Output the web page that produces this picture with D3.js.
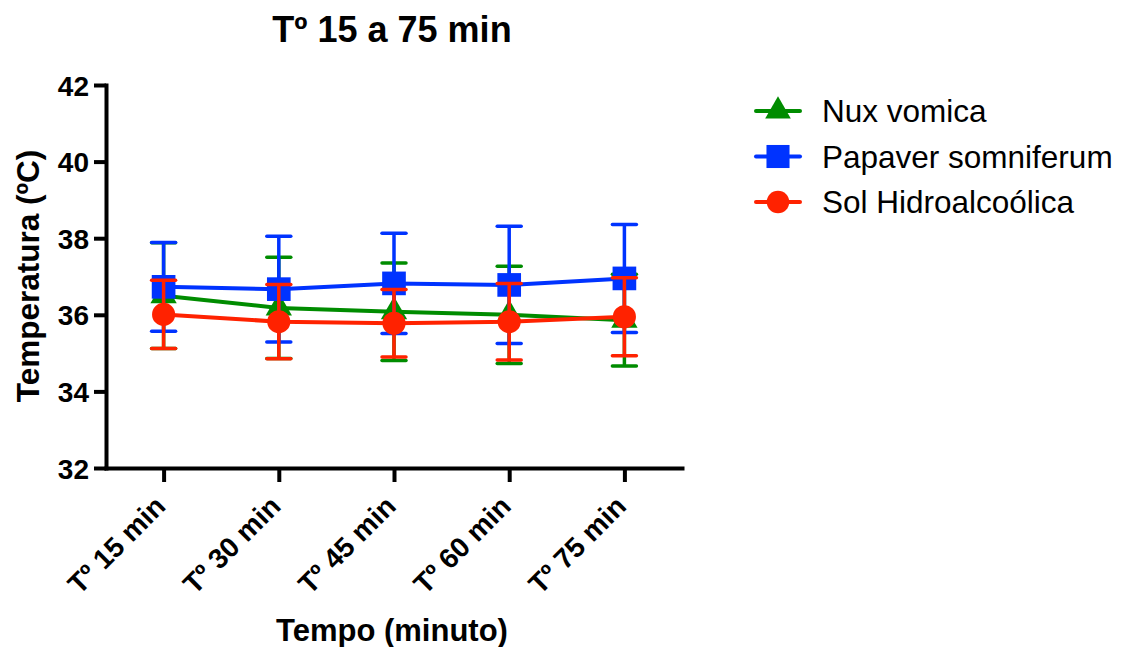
<!DOCTYPE html>
<html>
<head>
<meta charset="utf-8">
<script src="https://cdn.jsdelivr.net/npm/d3@7"></script>
<style>
  body { margin: 0; background: #fff; }
  svg { font-family: "Liberation Sans", Arial, sans-serif; }
</style>
</head>
<body>
<svg id="chart" width="1130" height="647"></svg>
<script>
// data
const categories = ["Tº 15 min", "Tº 30 min", "Tº 45 min", "Tº 60 min", "Tº 75 min"];
const yTicks = [32, 34, 36, 38, 40, 42];

const nuxMean = [36.50, 36.18, 36.08, 36.00, 35.86];
const nuxSd   = [1.38, 1.32, 1.27, 1.27, 1.20];

const papMean = [36.73, 36.67, 36.82, 36.78, 36.95];
const papSd   = [1.16, 1.38, 1.31, 1.53, 1.41];

const solMean = [36.01, 35.82, 35.78, 35.82, 35.95];
const solSd   = [0.89, 0.97, 0.88, 1.00, 1.02];

const seriesNames = ["Nux vomica", "Papaver somniferum", "Sol Hidroalcoólica"];

const series = [
  {name: seriesNames[0], mean: nuxMean, sd: nuxSd, color: "#008C00", symbol: d3.symbolTriangle, size: 300},
  {name: seriesNames[1], mean: papMean, sd: papSd, color: "#0033FF", symbol: d3.symbolSquare, size: 560},
  {name: seriesNames[2], mean: solMean, sd: solSd, color: "#FF2200", symbol: d3.symbolCircle, size: 420}
];

const svg = d3.select("#chart");

const x = d3.scalePoint().domain(categories).range([106, 682]).padding(0.5);
const y = d3.scaleLinear().domain([32, 42]).range([468, 85]);

// axes
const yAxis = svg.append("g")
  .attr("transform", "translate(106,0)")
  .call(d3.axisLeft(y).tickValues(yTicks).tickSize(12).tickSizeOuter(0).tickPadding(5));

const xAxis = svg.append("g")
  .attr("transform", "translate(0,468)")
  .call(d3.axisBottom(x).tickSize(14).tickSizeOuter(0));

[yAxis, xAxis].forEach(g => {
  g.select(".domain").attr("stroke", "#000").attr("stroke-width", 4).attr("stroke-linecap", "square");
  g.selectAll(".tick line").attr("stroke", "#000").attr("stroke-width", 4);
});

yAxis.selectAll("text")
  .attr("fill", "#000")
  .style("font-size", "28px")
  .style("font-weight", "bold")
  .attr("dy", "0.36em");

xAxis.selectAll("text")
  .attr("fill", "#000")
  .style("font-size", "28px")
  .style("font-weight", "bold")
  .attr("text-anchor", "end")
  .attr("y", 0).attr("dy", 0)
  .attr("transform", "translate(3,40) rotate(-45)");

// series lines, error bars, markers
series.forEach(s => {
  const g = svg.append("g");
  const line = d3.line()
    .x((d, i) => x(categories[i]))
    .y(d => y(d));

  g.append("path")
    .datum(s.mean)
    .attr("fill", "none")
    .attr("stroke", s.color)
    .attr("stroke-width", 4)
    .attr("d", line);

  const eb = g.selectAll(".eb")
    .data(s.mean)
    .join("g")
    .attr("transform", (d, i) => `translate(${x(categories[i])},0)`);

  eb.append("line")
    .attr("y1", (d, i) => y(d + s.sd[i]))
    .attr("y2", (d, i) => y(d - s.sd[i]))
    .attr("stroke", s.color).attr("stroke-width", 3.5);

  [1, -1].forEach(sign => {
    eb.append("line")
      .attr("x1", -12).attr("x2", 12)
      .attr("y1", (d, i) => y(d + sign * s.sd[i]))
      .attr("y2", (d, i) => y(d + sign * s.sd[i]))
      .attr("stroke", s.color).attr("stroke-width", 3.5)
      .attr("stroke-linecap", "round");
  });

  eb.append("path")
    .attr("d", d3.symbol().type(s.symbol).size(s.size))
    .attr("transform", d => `translate(0,${y(d)})`)
    .attr("fill", s.color);
});

// legend
const legend = svg.append("g");
series.forEach((s, i) => {
  const cy = 111 + i * 45.5;
  legend.append("line")
    .attr("x1", 756).attr("x2", 800)
    .attr("y1", cy).attr("y2", cy)
    .attr("stroke", s.color).attr("stroke-width", 4)
    .attr("stroke-linecap", "round");
  legend.append("path")
    .attr("d", d3.symbol().type(s.symbol).size(s.size * 0.95))
    .attr("transform", `translate(778,${cy})`)
    .attr("fill", s.color);
  legend.append("text")
    .attr("x", 822).attr("y", cy + 11)
    .style("font-size", "31.5px")
    .text(s.name);
});

// titles
svg.append("text")
  .attr("x", 392).attr("y", 42)
  .attr("text-anchor", "middle")
  .style("font-size", "36px").style("font-weight", "bold")
  .text("Tº 15 a 75 min");

svg.append("text")
  .attr("x", 392).attr("y", 641)
  .attr("text-anchor", "middle")
  .style("font-size", "31px").style("font-weight", "bold")
  .text("Tempo (minuto)");

svg.append("text")
  .attr("transform", "translate(39,276) rotate(-90)")
  .attr("text-anchor", "middle")
  .style("font-size", "31.5px").style("font-weight", "bold")
  .text("Temperatura (ºC)");
</script>
</body>
</html>
